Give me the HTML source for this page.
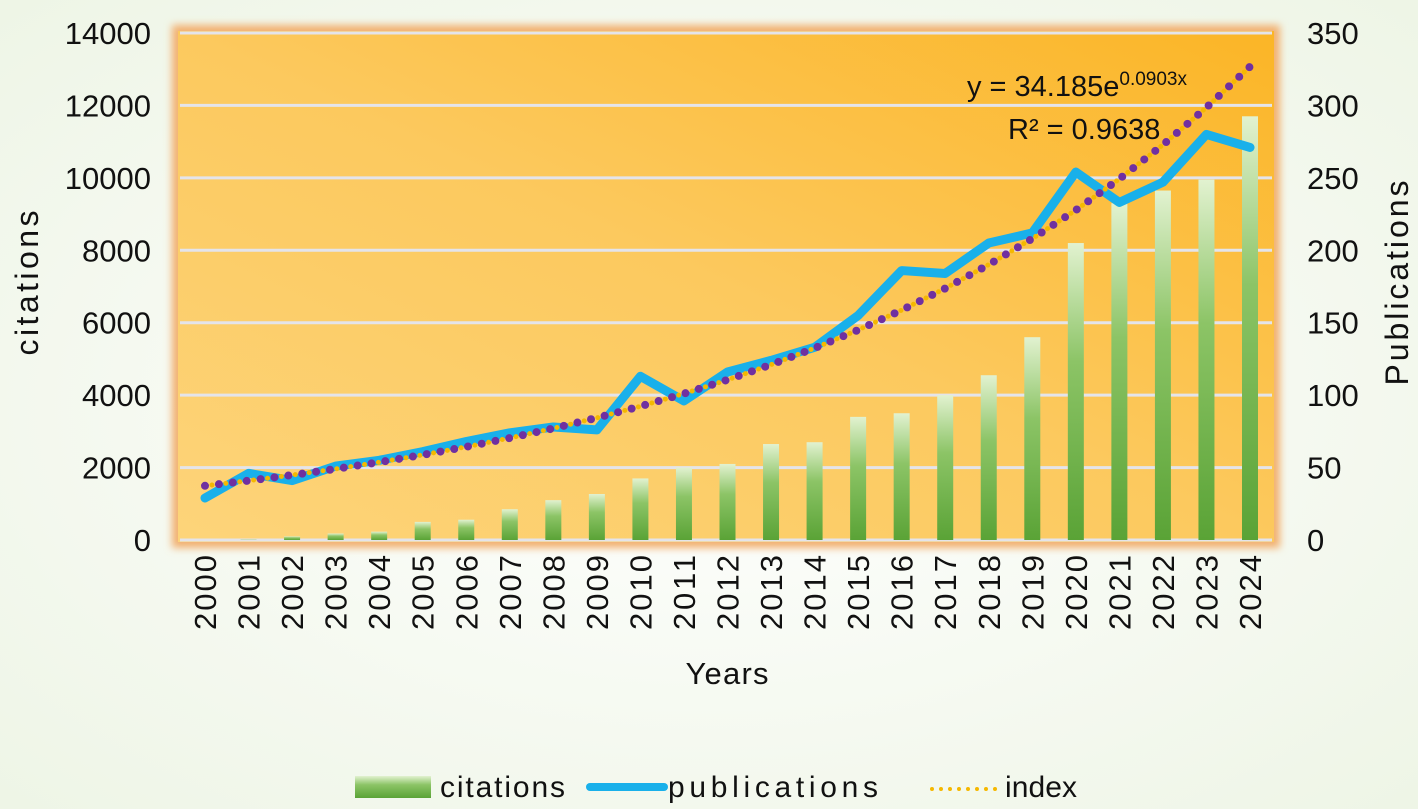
<!DOCTYPE html>
<html><head><meta charset="utf-8"><style>
html,body{margin:0;padding:0;background:#f4f8f0;}
svg{display:block;font-family:"Liberation Sans",sans-serif;}
</style></head><body>
<svg width="1418" height="809" viewBox="0 0 1418 809" id="chart">
<defs>
<radialGradient id="bg" cx="0.5" cy="0.5" r="0.7"><stop offset="0" stop-color="#ffffff"/><stop offset="1" stop-color="#eef5e6"/></radialGradient>
<linearGradient id="plotbg" x1="0" y1="1" x2="1" y2="0"><stop offset="0" stop-color="#fdd47a"/><stop offset="0.5" stop-color="#fcc95e"/><stop offset="1" stop-color="#fbb526"/></linearGradient>
<linearGradient id="bar" x1="0" y1="0" x2="0" y2="1"><stop offset="0" stop-color="#e2f2d0"/><stop offset="0.4" stop-color="#8cc466"/><stop offset="1" stop-color="#5aa336"/></linearGradient>
<filter id="glow" x="-5%" y="-5%" width="110%" height="110%"><feGaussianBlur stdDeviation="4"/></filter>
</defs>
<rect width="1418" height="809" fill="url(#bg)"/>
<rect x="172" y="25" width="1108" height="523" fill="#f2b070" filter="url(#glow)"/>
<rect x="178" y="31" width="1096" height="511" fill="url(#plotbg)"/>
<g id="grid"></g><g id="bars"></g><g id="lines"></g><g id="axes"></g>
<text x="967" y="96" font-size="29" fill="#111">y = 34.185e<tspan font-size="19" dy="-11">0.0903x</tspan></text>
<text x="1008" y="139" font-size="29" fill="#111">R² = 0.9638</text>
<text transform="translate(38,283) rotate(-90)" text-anchor="middle" font-size="32" textLength="145" fill="#111">citations</text>
<text transform="translate(1408,283) rotate(-90)" text-anchor="middle" font-size="32" textLength="205" fill="#111">Publications</text>
<text x="727" y="684" text-anchor="middle" font-size="31" textLength="83" fill="#111">Years</text>
<g>
<rect x="355" y="776" width="76" height="22" fill="url(#bar)"/>
<text x="440" y="797" font-size="30" textLength="125" fill="#111">citations</text>
<line x1="590" y1="787" x2="664" y2="787" stroke="#19b0ea" stroke-width="8" stroke-linecap="round"/>
<text x="668" y="797" font-size="30" textLength="210" fill="#111">publications</text>
<line x1="932" y1="789" x2="998" y2="789" stroke="#f5b800" stroke-width="4" stroke-linecap="round" stroke-dasharray="0 9"/>
<text x="1005" y="797" font-size="30" textLength="72" fill="#111">index</text>
</g>
</svg>
<script>
const years=[2000,2001,2002,2003,2004,2005,2006,2007,2008,2009,2010,2011,2012,2013,2014,2015,2016,2017,2018,2019,2020,2021,2022,2023,2024];
const citations=[0,10,100,180,230,500,560,850,1100,1270,1700,2000,2100,2650,2700,3400,3500,4000,4550,5600,8200,9300,9650,9950,11700];
const publications=[29,46,41,51,55,61,68,74,78,76,113,96,116,124,133,155,186,184,205,212,254,233,247,280,271];
const leftTicks=[0,2000,4000,6000,8000,10000,12000,14000];
const rightTicks=[0,50,100,150,200,250,300,350];
const trendA=34.185, trendB=0.0903;
const NS='http://www.w3.org/2000/svg';
const X0=205,X1=1250,Y0=540,Y1=33;
const xs=i=>X0+(X1-X0)*i/(years.length-1);
const yl=v=>Y0-(Y0-Y1)*v/14000;
const yr=v=>Y0-(Y0-Y1)*v/350;
function mk(tag,attrs,parent){const e=document.createElementNS(NS,tag);for(const k in attrs)e.setAttribute(k,attrs[k]);document.getElementById(parent).appendChild(e);return e;}
leftTicks.forEach((t,i)=>{
  const g=mk('line',{x1:180,x2:1272,y1:yl(t),y2:yl(t),stroke:'#e4e4ea','stroke-width':3},'grid');
  
  
  const tx=mk('text',{x:151,y:yl(t)+11,'text-anchor':'end','font-size':31,fill:'#111'},'axes');tx.textContent=t;
  
  
});
rightTicks.forEach(t=>{
  const tx=mk('text',{x:1307,y:yr(t)+11,'font-size':31,fill:'#111'},'axes');tx.textContent=t;
  
  
});
years.forEach((yv,i)=>{
  const tx=mk('text',{transform:`translate(${xs(i)+11},555) rotate(-90)`,'text-anchor':'end','font-size':31,textLength:75,fill:'#111'},'axes');tx.textContent=yv;
  
  
  const h=Y0-yl(citations[i]);
  const b=mk('rect',{x:xs(i)-8,y:yl(citations[i]),width:16,height:Math.max(h,0),fill:'url(#bar)'},'bars');
  
  
});
const pts=publications.map((v,i)=>xs(i)+','+yr(v)).join(' ');
const pl=mk('polyline',{points:pts,fill:'none',stroke:'#19b0ea','stroke-width':9,'stroke-linejoin':'round','stroke-linecap':'round'},'lines');


const tp=years.map((y,i)=>xs(i)+','+yr(trendA*Math.exp(trendB*(i+1)))).join(' ');
const il=mk('polyline',{points:tp,fill:'none',stroke:'#f5b800','stroke-width':5,'stroke-linecap':'round','stroke-dasharray':'0 14','stroke-dashoffset':7},'lines');


const tl=mk('polyline',{points:tp,fill:'none',stroke:'#7030a0','stroke-width':8,'stroke-linecap':'round','stroke-dasharray':'0 14'},'lines');


</script>
</body></html>
